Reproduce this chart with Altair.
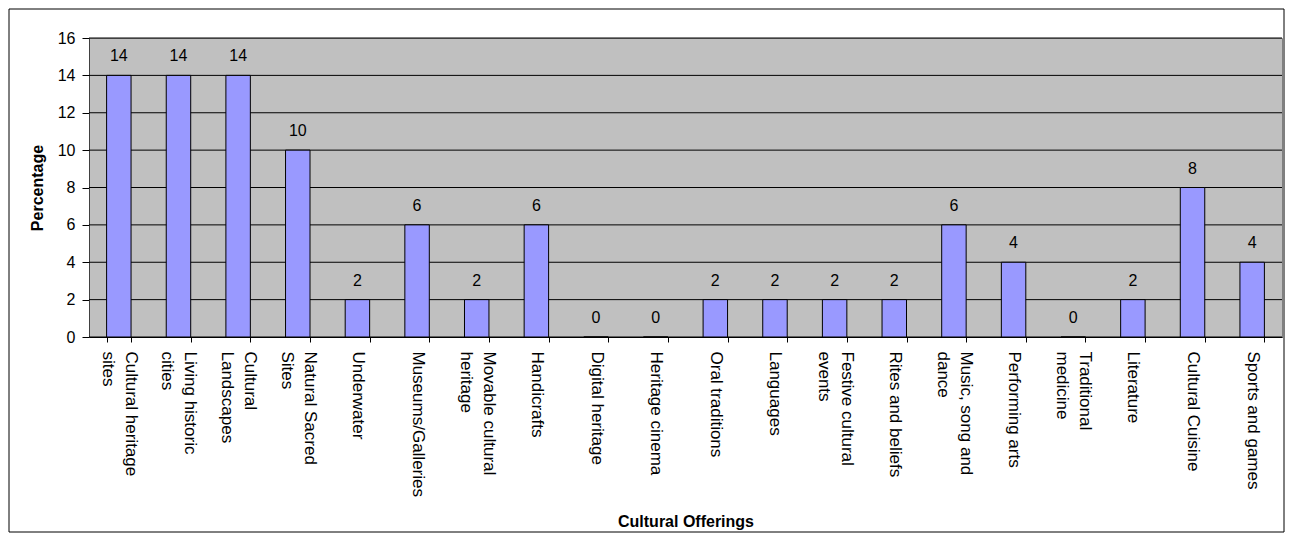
import altair as alt
import pandas as pd

categories = [
    "Cultural heritage\nsites", "Living historic\ncities", "Cultural\nLandscapes",
    "Natural Sacred\nSites", "Underwater", "Museums/Galleries", "Movable cultural\nheritage",
    "Handicrafts", "Digital heritage", "Heritage cinema", "Oral traditions", "Languages",
    "Festive cultural\nevents", "Rites and beliefs", "Music, song and\ndance",
    "Performing arts", "Traditional\nmedicine", "Literature", "Cultural Cuisine",
    "Sports and games",
]
values = [14, 14, 14, 10, 2, 6, 2, 6, 0, 0, 2, 2, 2, 2, 6, 4, 0, 2, 8, 4]
y_ticks = [0, 2, 4, 6, 8, 10, 12, 14, 16]

df = pd.DataFrame({"cat": categories, "val": values})
grid_df = pd.DataFrame({"tick": y_ticks})

W = 1193
H = 299
FONT = "Liberation Sans"

x_axis = alt.Axis(
    labelAngle=90, labelExpr="split(datum.label, '\\n')",
    labelFontSize=17, labelLineHeight=23, labelPadding=9,
    labelOffset={"condition": {"test": "indexof(datum.label, '\\n') >= 0", "value": 11.5}, "value": 0},
    tickBand="extent", tickSize=5, tickColor="#000000",
    domainColor="#000000", grid=False, labelColor="#000000",
    titleFontSize=16, titleFontWeight="bold", titlePadding=17,
    titleColor="#000000", labelFont=FONT, titleFont=FONT,
)
y_axis = alt.Axis(
    values=y_ticks, tickCount=20, labelOverlap=False, grid=False,
    labelFontSize=16, labelPadding=7, tickSize=7,
    tickColor="#000000", domainColor="#404040",
    labelColor="#000000", titleFontSize=16,
    titleFontWeight="bold", titlePadding=12, titleColor="#000000",
    labelFont=FONT, titleFont=FONT,
)
x_scale = alt.Scale(paddingInner=0.59, paddingOuter=0.295)
y_scale = alt.Scale(domain=[0, 16], nice=False)

x_enc = alt.X("cat:N", sort=None, title="Cultural Offerings", scale=x_scale, axis=x_axis)
y_enc = alt.Y("val:Q", title="Percentage", scale=y_scale, axis=y_axis)

gridlines = alt.Chart(grid_df).mark_rule(color="#000000", strokeWidth=1).encode(
    y=alt.Y("tick:Q", title="Percentage", scale=y_scale, axis=y_axis)
)
base = alt.Chart(df)
bars = base.mark_bar(color="#9999FF", stroke="#000000", strokeWidth=1, opacity=1).encode(x=x_enc, y=y_enc)
labels = base.mark_text(fontSize=16, font=FONT, baseline="bottom", dy=-11, color="#000000").encode(
    x=x_enc, y=y_enc, text="val:Q"
)
frame = alt.Chart(pd.DataFrame({"f": [0]})).mark_rect(
    filled=False, stroke="#000000", strokeWidth=1
).encode(
    x=alt.value(-80), x2=alt.value(W + 2), y=alt.value(-29), y2=alt.value(H + 195)
)

chart = alt.layer(gridlines, bars, labels, frame).properties(
    width=W, height=H, padding=0, background="white"
).configure_view(fill="#C0C0C0", stroke="#808080", strokeWidth=1)

chart.save("out.html", embed_options={"renderer": "svg", "actions": False})
